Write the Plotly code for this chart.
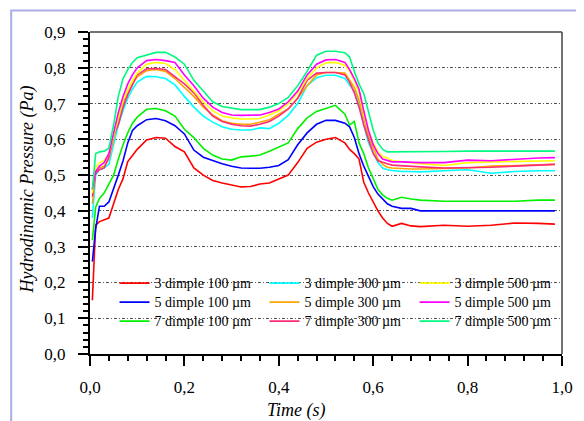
import plotly.graph_objects as go

# time axis (s), shared by all curves
time = [0.005, 0.012, 0.02, 0.03, 0.04, 0.05, 0.06, 0.07, 0.08, 0.09,
        0.10, 0.12, 0.14, 0.16, 0.18, 0.20, 0.22, 0.24, 0.26, 0.28,
        0.30, 0.32, 0.34, 0.36, 0.38, 0.40, 0.42, 0.44, 0.46, 0.48,
        0.50, 0.52, 0.54, 0.55, 0.56, 0.57, 0.58, 0.59, 0.60, 0.61,
        0.62, 0.63, 0.64, 0.66, 0.68, 0.70, 0.75, 0.80, 0.85, 0.90,
        0.95, 0.985]

# hydrodinamic pressure (Pa)
d3_100 = [0.15, 0.36, 0.37, 0.375, 0.38, 0.42, 0.46, 0.49, 0.538, 0.555,
          0.572, 0.598, 0.605, 0.603, 0.58, 0.565, 0.52, 0.50, 0.485, 0.478,
          0.472, 0.467, 0.468, 0.475, 0.478, 0.488, 0.50, 0.535, 0.575, 0.592,
          0.60, 0.605, 0.59, 0.572, 0.56, 0.545, 0.48, 0.45, 0.425, 0.40,
          0.38, 0.365, 0.357, 0.365, 0.358, 0.356, 0.36, 0.357, 0.36, 0.366,
          0.365, 0.363]
d5_100 = [0.258, 0.35, 0.413, 0.413, 0.425, 0.46, 0.50, 0.54, 0.59, 0.625,
          0.638, 0.655, 0.658, 0.652, 0.638, 0.615, 0.57, 0.55, 0.54, 0.532,
          0.525, 0.52, 0.519, 0.519, 0.522, 0.527, 0.543, 0.585, 0.618, 0.642,
          0.653, 0.653, 0.645, 0.635, 0.605, 0.56, 0.525, 0.495, 0.468, 0.447,
          0.432, 0.42, 0.413, 0.407, 0.407, 0.40, 0.40, 0.40, 0.40, 0.40,
          0.40, 0.40]
d7_100 = [0.318, 0.41, 0.435, 0.45, 0.475, 0.50, 0.545, 0.585, 0.618, 0.645,
          0.662, 0.684, 0.686, 0.68, 0.665, 0.628, 0.605, 0.575, 0.556, 0.545,
          0.542, 0.551, 0.553, 0.556, 0.567, 0.578, 0.59, 0.63, 0.66, 0.678,
          0.686, 0.695, 0.67, 0.64, 0.65, 0.59, 0.56, 0.52, 0.49, 0.46,
          0.445, 0.435, 0.43, 0.438, 0.433, 0.43, 0.427, 0.427, 0.427, 0.427,
          0.43, 0.43]
d3_300 = [0.38, 0.50, 0.515, 0.52, 0.53, 0.585, 0.64, 0.68, 0.715, 0.74,
          0.76, 0.776, 0.775, 0.77, 0.752, 0.72, 0.69, 0.665, 0.648, 0.635,
          0.628, 0.626, 0.626, 0.632, 0.63, 0.645, 0.667, 0.70, 0.75, 0.772,
          0.779, 0.779, 0.77, 0.752, 0.735, 0.70, 0.64, 0.59, 0.56, 0.535,
          0.52, 0.515, 0.513, 0.51, 0.51, 0.509, 0.512, 0.515, 0.505, 0.51,
          0.512, 0.512]
d5_300 = [0.42, 0.51, 0.52, 0.525, 0.545, 0.60, 0.655, 0.70, 0.73, 0.755,
          0.775, 0.792, 0.795, 0.79, 0.77, 0.745, 0.72, 0.69, 0.668, 0.652,
          0.645, 0.642, 0.642, 0.648, 0.655, 0.67, 0.685, 0.715, 0.75, 0.78,
          0.787, 0.787, 0.785, 0.765, 0.745, 0.71, 0.66, 0.61, 0.575, 0.545,
          0.53, 0.522, 0.52, 0.518, 0.517, 0.517, 0.518, 0.52, 0.525, 0.527,
          0.528, 0.53]
d7_300 = [0.44, 0.505, 0.515, 0.52, 0.55, 0.612, 0.64, 0.69, 0.725, 0.755,
          0.78, 0.797, 0.798, 0.795, 0.775, 0.755, 0.73, 0.695, 0.665, 0.65,
          0.642, 0.638, 0.637, 0.642, 0.65, 0.665, 0.685, 0.715, 0.765, 0.785,
          0.787, 0.787, 0.78, 0.76, 0.73, 0.69, 0.64, 0.60, 0.56, 0.54,
          0.535, 0.532, 0.528, 0.527, 0.525, 0.523, 0.52, 0.52, 0.522, 0.525,
          0.527, 0.53]
d3_500 = [0.45, 0.52, 0.535, 0.54, 0.56, 0.61, 0.665, 0.71, 0.74, 0.765,
          0.785, 0.81, 0.815, 0.812, 0.795, 0.765, 0.735, 0.705, 0.68, 0.665,
          0.66, 0.657, 0.657, 0.658, 0.668, 0.68, 0.70, 0.73, 0.77, 0.80,
          0.814, 0.815, 0.807, 0.79, 0.765, 0.73, 0.67, 0.625, 0.59, 0.565,
          0.552, 0.548, 0.54, 0.537, 0.535, 0.532, 0.527, 0.535, 0.537, 0.538,
          0.54, 0.54]
d5_500 = [0.46, 0.51, 0.525, 0.535, 0.56, 0.62, 0.675, 0.72, 0.755, 0.78,
          0.80, 0.82, 0.823, 0.82, 0.815, 0.78, 0.75, 0.715, 0.69, 0.675,
          0.668, 0.667, 0.667, 0.668, 0.675, 0.685, 0.705, 0.735, 0.78, 0.81,
          0.822, 0.823, 0.815, 0.795, 0.77, 0.74, 0.68, 0.625, 0.585, 0.56,
          0.545, 0.54, 0.537, 0.537, 0.536, 0.535, 0.535, 0.542, 0.54, 0.545,
          0.548, 0.549]
d7_500 = [0.46, 0.56, 0.565, 0.567, 0.575, 0.64, 0.72, 0.77, 0.795, 0.815,
          0.828, 0.835, 0.843, 0.843, 0.83, 0.81, 0.765, 0.735, 0.705, 0.692,
          0.687, 0.683, 0.683, 0.683, 0.69, 0.70, 0.717, 0.75, 0.79, 0.835,
          0.846, 0.846, 0.842, 0.83, 0.79, 0.755, 0.728, 0.68, 0.626, 0.59,
          0.572, 0.565, 0.565, 0.564, 0.564, 0.565, 0.566, 0.567, 0.567, 0.567,
          0.567, 0.567]

# name, values, colour, position in the 3-column legend
series = [
    ('3 dimple 100 µm', d3_100, '#FF0000', 1),
    ('5 dimple 100 µm', d5_100, '#0000FF', 4),
    ('7 dimple 100 µm', d7_100, '#00F000', 7),
    ('3 dimple 300 µm', d3_300, '#00FFFF', 2),
    ('5 dimple 300 µm', d5_300, '#FFA500', 5),
    ('7 dimple 300 µm', d7_300, '#FF2D78', 8),
    ('3 dimple 500 µm', d3_500, '#FFFF00', 3),
    ('5 dimple 500 µm', d5_500, '#FF00FF', 6),
    ('7 dimple 500 µm', d7_500, '#00FA80', 9),
]

serif = 'Liberation Serif, Times New Roman, DejaVu Serif, serif'

fig = go.Figure()
for name, vals, col, rank in series:
    # bigger glyphs than the legend font so the rows stay tight
    label = '<span style="font-size:14px">' + name + '</span>'
    fig.add_trace(go.Scatter(x=time, y=vals, mode='lines', name=label,
                             line=dict(color=col, width=1.6), legendrank=rank))

# the page adds an 8px body margin, so the figure is 8px smaller than the window
fig.update_layout(
    width=576, height=413,
    margin=dict(l=82, r=11, t=24, b=67),
    paper_bgcolor='white', plot_bgcolor='white',
    separators=', ',
    font=dict(family=serif, size=17, color='black'),
    showlegend=True,
    legend=dict(orientation='h', x=0.052, y=0.265, xanchor='left', yanchor='top',
                bgcolor='rgba(0,0,0,0)', font=dict(family=serif, size=11.5),
                entrywidth=105, entrywidthmode='pixels',
                tracegroupgap=0, itemwidth=30),
)

fig.update_xaxes(range=[0, 1], dtick=0.2, tick0=0, tickformat='.1f',
                 showline=True, linecolor='black', linewidth=2,
                 ticks='outside', ticklen=10, tickwidth=1.5, tickcolor='black',
                 ticklabelstandoff=7, showgrid=False, zeroline=False,
                 minor=dict(dtick=0.04, tick0=0, ticks='outside', ticklen=5,
                            tickwidth=1.5, tickcolor='black', showgrid=False))
fig.update_yaxes(range=[0, 0.9], dtick=0.1, tick0=0, tickformat='.1f',
                 showline=True, linecolor='black', linewidth=2,
                 ticks='outside', ticklen=10, tickwidth=1.5, tickcolor='black',
                 ticklabelstandoff=9, zeroline=False,
                 showgrid=True, gridcolor='#555555', gridwidth=1,
                 griddash='3px,2px,1px,2px',
                 minor=dict(dtick=0.02, tick0=0, ticks='outside', ticklen=5,
                            tickwidth=1.5, tickcolor='black', showgrid=False))

# axis titles placed as in the original
fig.add_annotation(text='<i>Time (s)</i>', xref='paper', yref='paper',
                   x=0.437, y=-0.177, xanchor='center', yanchor='middle',
                   showarrow=False, font=dict(family=serif, size=18))
fig.add_annotation(text='<i>Hydrodinamic Pressure (Pa)</i>', xref='paper', yref='paper',
                   x=-0.132, y=0.51, xanchor='center', yanchor='middle', textangle=-90,
                   showarrow=False, font=dict(family=serif, size=18))

# thin top/right frame of the plot area
fig.add_shape(type='line', xref='paper', yref='paper', x0=0, x1=1, y0=1, y1=1,
              line=dict(color='#444444', width=1.5))
fig.add_shape(type='line', xref='paper', yref='paper', x0=1, x1=1, y0=0, y1=1,
              line=dict(color='#444444', width=1.5))
# outer lavender border of the picture
fig.add_shape(type='rect', xref='paper', yref='paper', x0=-0.167, x1=1.3, y0=-0.4, y1=1.067,
              line=dict(color='#A9AEE6', width=2), layer='below')

fig.write_html("out.html")
